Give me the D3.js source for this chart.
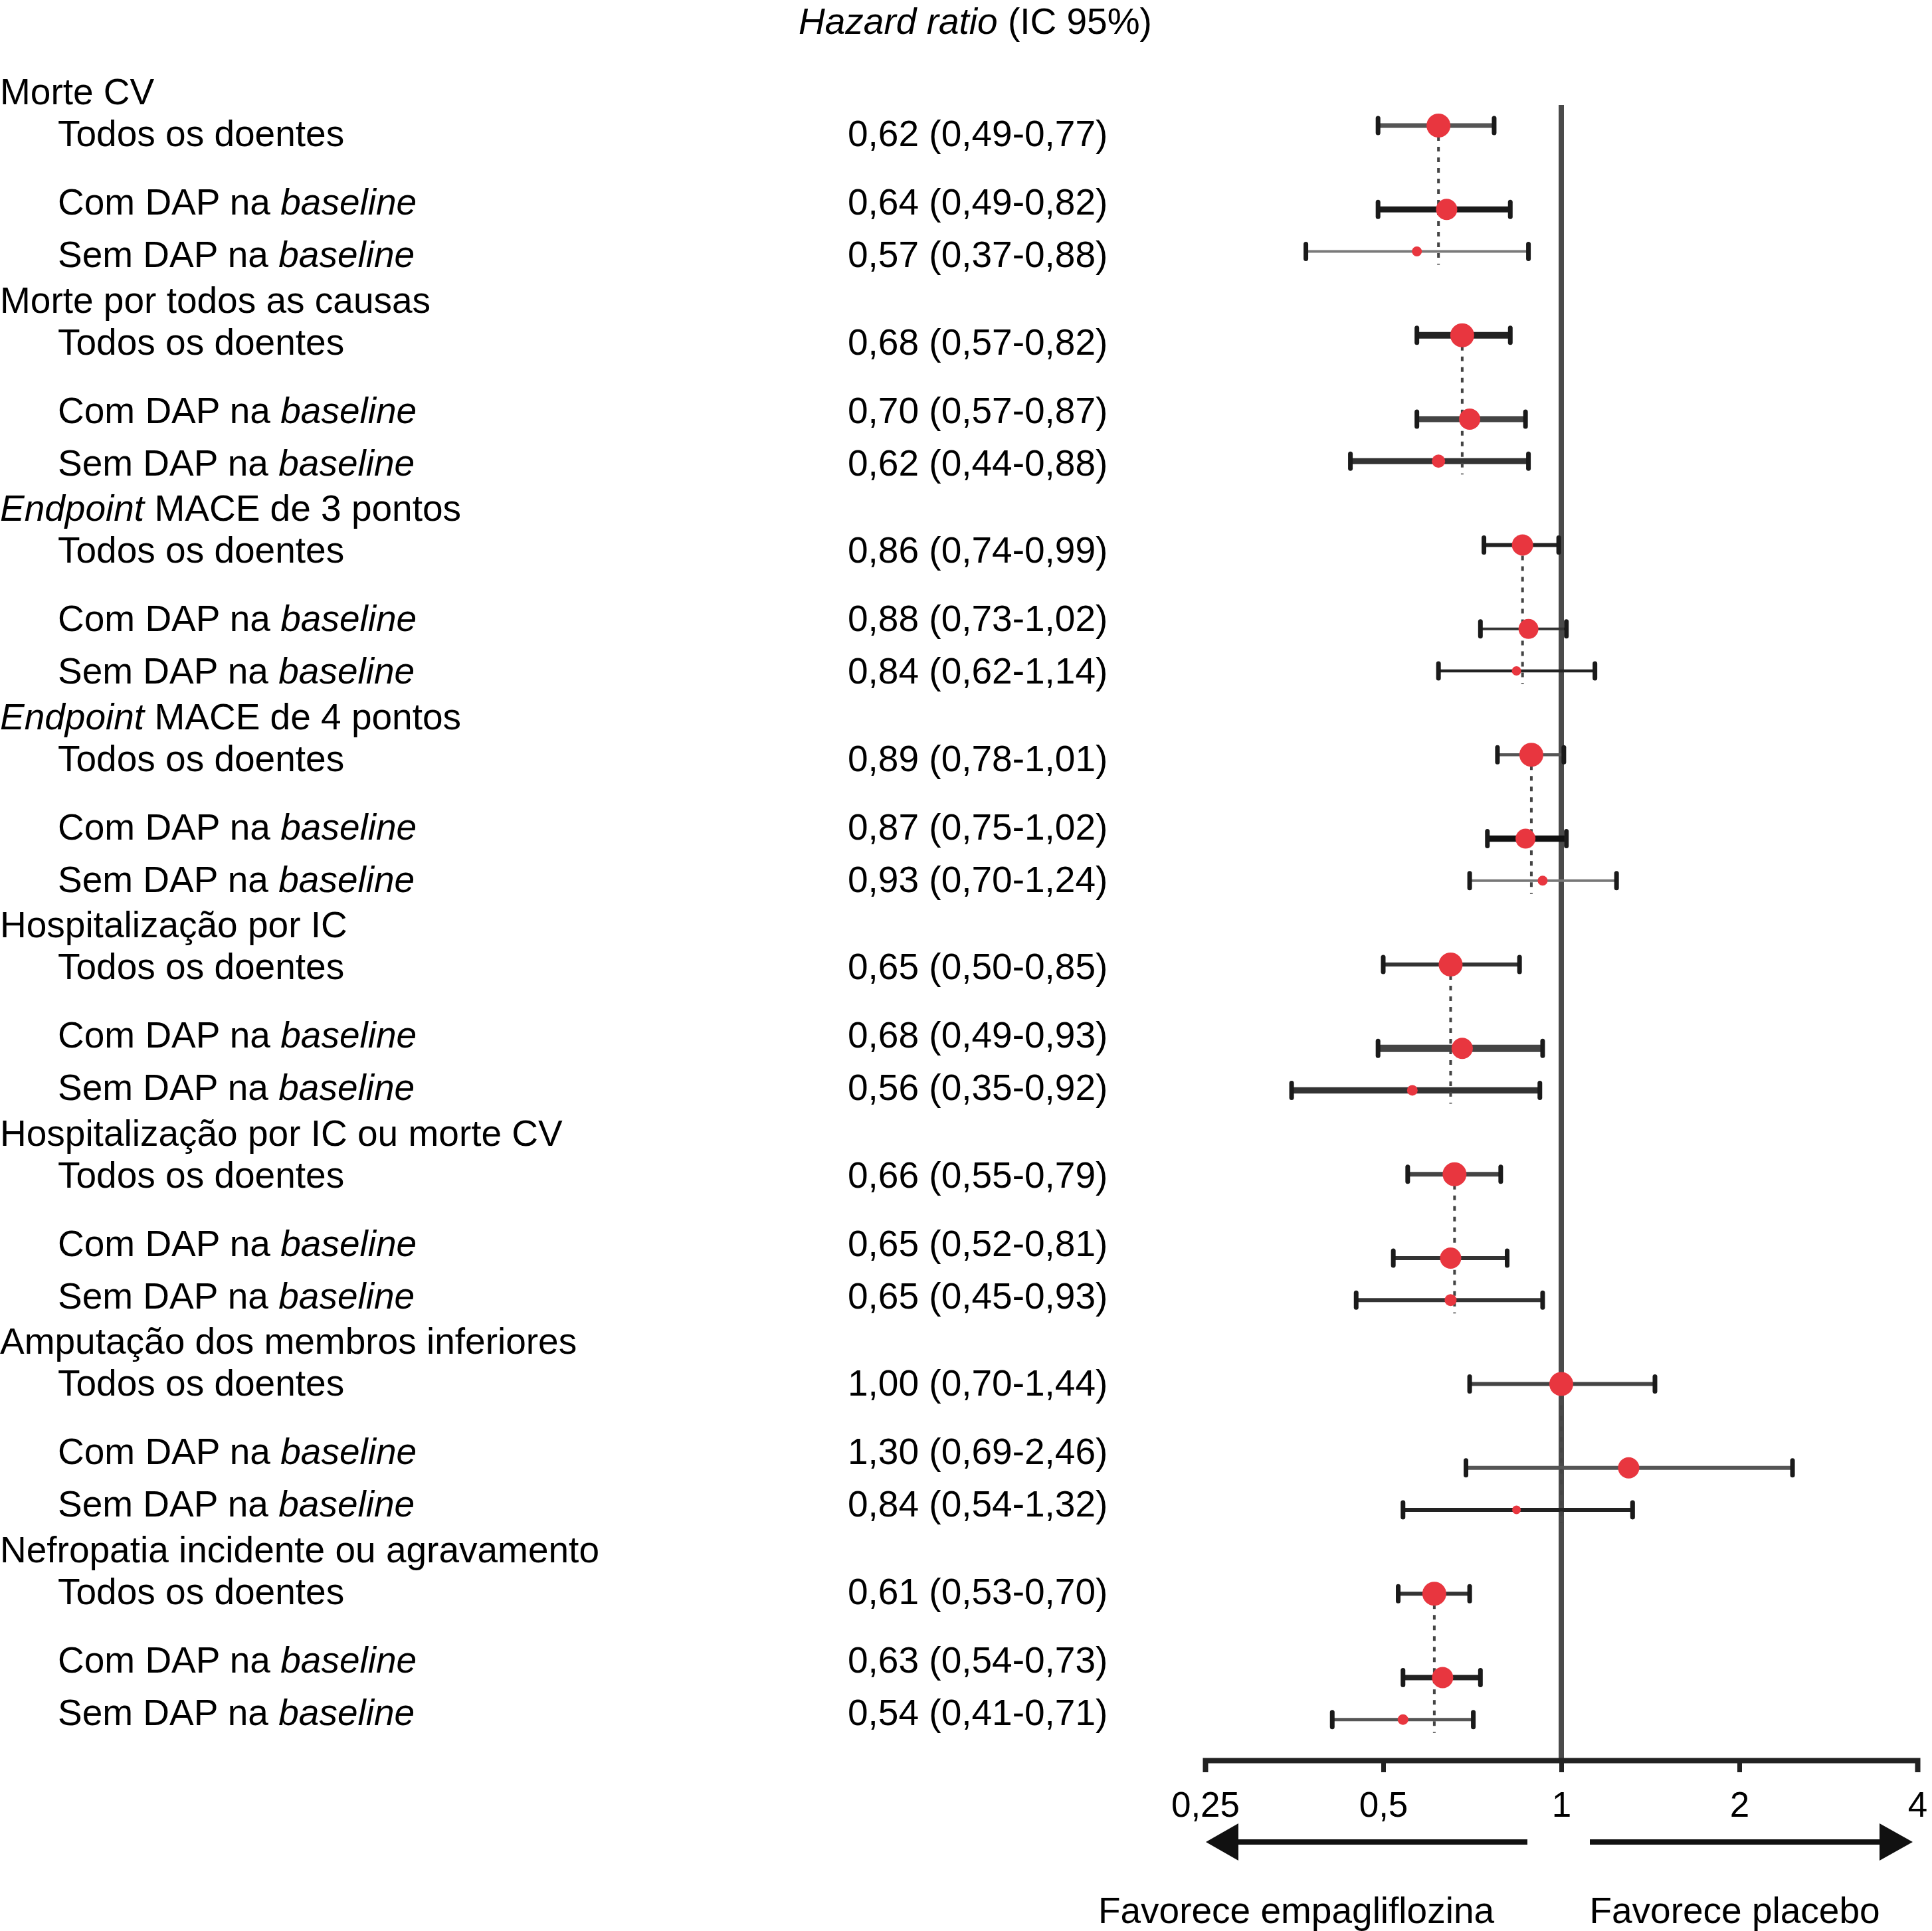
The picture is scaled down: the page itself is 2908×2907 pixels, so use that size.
<!DOCTYPE html>
<html>
<head>
<meta charset="utf-8">
<script src="https://cdn.jsdelivr.net/npm/d3@7"></script>
<style>
  html, body { margin: 0; padding: 0; background: #fff; }
  svg { display: block; }
  text { font-family: "Liberation Sans", Arial, Helvetica, sans-serif; fill: #000; }
</style>
</head>
<body>
<svg id="chart" width="2908" height="2907"></svg>
<script>
// ---------- DATA ----------
const groupLabels = [
  "Morte CV",
  "Morte por todos as causas",
  "MACE de 3 pontos",
  "MACE de 4 pontos",
  "Hospitalização por IC",
  "Hospitalização por IC ou morte CV",
  "Amputação dos membros inferiores",
  "Nefropatia incidente ou agravamento"
];
const groupItalicPrefix = ["", "", "Endpoint", "Endpoint", "", "", "", ""];
const subgroupLabels = ["Todos os doentes", "Com DAP na", "Sem DAP na"];
const subgroupItalicSuffix = ["", "baseline", "baseline"];

const hr = [0.62, 0.64, 0.57, 0.68, 0.70, 0.62, 0.86, 0.88, 0.84, 0.89, 0.87, 0.93,
            0.65, 0.68, 0.56, 0.66, 0.65, 0.65, 1.00, 1.30, 0.84, 0.61, 0.63, 0.54];
const ciLow = [0.49, 0.49, 0.37, 0.57, 0.57, 0.44, 0.74, 0.73, 0.62, 0.78, 0.75, 0.70,
               0.50, 0.49, 0.35, 0.55, 0.52, 0.45, 0.70, 0.69, 0.54, 0.53, 0.54, 0.41];
const ciHigh = [0.77, 0.82, 0.88, 0.82, 0.87, 0.88, 0.99, 1.02, 1.14, 1.01, 1.02, 1.24,
                0.85, 0.93, 0.92, 0.79, 0.81, 0.93, 1.44, 2.46, 1.32, 0.70, 0.73, 0.71];

const tickValues = [0.25, 0.5, 1, 2, 4];
const titleItalic = "Hazard ratio";
const titleRest = " (IC 95%)";
const favourLeft = "Favorece empagliflozina";
const favourRight = "Favorece placebo";

// ---------- STYLE (per row) ----------
const ciWidth = [7, 9, 4, 10, 9, 9, 6, 4, 4.5, 4.5, 9.5, 4,
                 6, 11, 9.5, 7, 6, 6, 6, 6, 6, 6, 8, 5];
const ciColor = ["#555", "#1a1a1a", "#7a7a7a", "#222", "#444", "#333", "#222", "#333", "#222", "#555", "#111", "#777",
                 "#333", "#444", "#333", "#444", "#333", "#333", "#444", "#555", "#222", "#333", "#222", "#555"];
const dotR = [18, 16, 7.5, 18, 16, 10, 16, 15, 7, 18, 15, 7.5,
              18, 16, 8, 18, 16, 9, 18, 16, 6.5, 18, 16, 8];

// ---------- LAYOUT ----------
const FS = 55;
const svg = d3.select("#chart");

const x = d3.scaleLog().base(2).domain([0.25, 4]).range([1814, 2886]);
const markSlot = [0, 2, 3];
const yMark = d3.scaleLinear().domain([0, 38]).range([189, 189 + 63.15 * 38]);
const yBlock = d3.scaleLinear().domain([0, 7]).range([157, 157 + 313.5 * 7]);
const textOffset = [63, 166, 245];
const axisY = 2650;

const locale = d3.formatLocale({decimal: ",", thousands: ".", grouping: [3], currency: ["", ""]});
const f2 = locale.format(".2f");
const tickFmt = v => locale.format("~g")(v);

const rows = [];
groupLabels.forEach((g, gi) => {
  subgroupLabels.forEach((s, si) => {
    const i = gi * 3 + si;
    rows.push({gi, si, i, hr: hr[i], lo: ciLow[i], hi: ciHigh[i],
               ym: yMark(gi * 5 + markSlot[si]),
               yt: yBlock(gi) + textOffset[si]});
  });
});

// ---------- TITLE ----------
const title = svg.append("text")
  .attr("x", 1468).attr("y", 51).attr("text-anchor", "middle")
  .attr("font-size", FS);
title.append("tspan").attr("font-style", "italic").text(titleItalic);
title.append("tspan").text(titleRest);

// ---------- LEFT TABLE ----------
groupLabels.forEach((g, gi) => {
  const t = svg.append("text").attr("x", 0).attr("y", yBlock(gi)).attr("font-size", FS);
  if (groupItalicPrefix[gi]) {
    t.append("tspan").attr("font-style", "italic").text(groupItalicPrefix[gi] + " ");
  }
  t.append("tspan").text(g);
});

rows.forEach(r => {
  const t = svg.append("text").attr("x", 87).attr("y", r.yt).attr("font-size", FS);
  t.append("tspan").text(subgroupLabels[r.si]);
  if (subgroupItalicSuffix[r.si]) {
    t.append("tspan").attr("font-style", "italic").text(" " + subgroupItalicSuffix[r.si]);
  }
  svg.append("text").attr("x", 1276).attr("y", r.yt).attr("font-size", FS)
    .text(`${f2(r.hr)} (${f2(r.lo)}-${f2(r.hi)})`);
});

// ---------- PLOT ----------
// reference line at HR = 1
svg.append("line")
  .attr("x1", x(1)).attr("x2", x(1))
  .attr("y1", 158).attr("y2", axisY)
  .attr("stroke", "#4a4a4a").attr("stroke-width", 8);

// CI bars
const bars = svg.append("g");
rows.forEach(r => {
  bars.append("line")
    .attr("x1", x(r.lo)).attr("x2", x(r.hi))
    .attr("y1", r.ym).attr("y2", r.ym)
    .attr("stroke", ciColor[r.i]).attr("stroke-width", ciWidth[r.i]);
  [r.lo, r.hi].forEach(v => {
    bars.append("line")
      .attr("x1", x(v)).attr("x2", x(v))
      .attr("y1", r.ym - 11).attr("y2", r.ym + 11)
      .attr("stroke", "#1a1a1a").attr("stroke-width", 7)
      .attr("stroke-linecap", "round");
  });
});

// dashed group reference lines at "Todos os doentes" HR
groupLabels.forEach((g, gi) => {
  const top = rows[gi * 3];
  const bottom = rows[gi * 3 + 2];
  svg.append("line")
    .attr("x1", x(top.hr)).attr("x2", x(top.hr))
    .attr("y1", top.ym).attr("y2", bottom.ym + 20)
    .attr("stroke", "#444").attr("stroke-width", 4)
    .attr("stroke-dasharray", "7,9");
});

// point estimates
svg.append("g").selectAll("circle").data(rows).join("circle")
  .attr("cx", d => x(d.hr)).attr("cy", d => d.ym)
  .attr("r", d => dotR[d.i])
  .attr("fill", "#e8363f");

// ---------- AXIS ----------
const axis = d3.axisBottom(x)
  .tickValues(tickValues)
  .tickFormat(tickFmt)
  .tickSize(18).tickSizeOuter(18).tickPadding(29);
const ag = svg.append("g").attr("transform", `translate(0,${axisY})`).call(axis);
ag.select(".domain").attr("stroke", "#222").attr("stroke-width", 8).attr("fill", "none");
ag.selectAll(".tick line").attr("stroke", "#222").attr("stroke-width", 7);
ag.selectAll(".tick text")
  .attr("font-size", 53)
  .attr("font-family", '"Liberation Sans", Arial, Helvetica, sans-serif')
  .attr("fill", "#000");

// ---------- ARROWS ----------
const arrowY = 2773;
const ag2 = svg.append("g").attr("fill", "#111").attr("stroke", "#111");
ag2.append("line")
  .attr("x1", x(0.25) + 40).attr("x2", x(1) - 51)
  .attr("y1", arrowY).attr("y2", arrowY).attr("stroke-width", 8);
ag2.append("path")
  .attr("stroke", "none")
  .attr("d", `M${x(0.25) + 1},${arrowY} L${x(0.25) + 50},${arrowY - 28} L${x(0.25) + 50},${arrowY + 28} Z`);
ag2.append("line")
  .attr("x1", x(1) + 43).attr("x2", x(4) - 50)
  .attr("y1", arrowY).attr("y2", arrowY).attr("stroke-width", 8);
ag2.append("path")
  .attr("stroke", "none")
  .attr("d", `M${x(4) - 7},${arrowY} L${x(4) - 57},${arrowY - 28} L${x(4) - 57},${arrowY + 28} Z`);

svg.append("text").attr("x", 1951).attr("y", 2895).attr("text-anchor", "middle")
  .attr("font-size", FS).text(favourLeft);
svg.append("text").attr("x", 2611).attr("y", 2895).attr("text-anchor", "middle")
  .attr("font-size", FS).text(favourRight);
</script>
</body>
</html>
